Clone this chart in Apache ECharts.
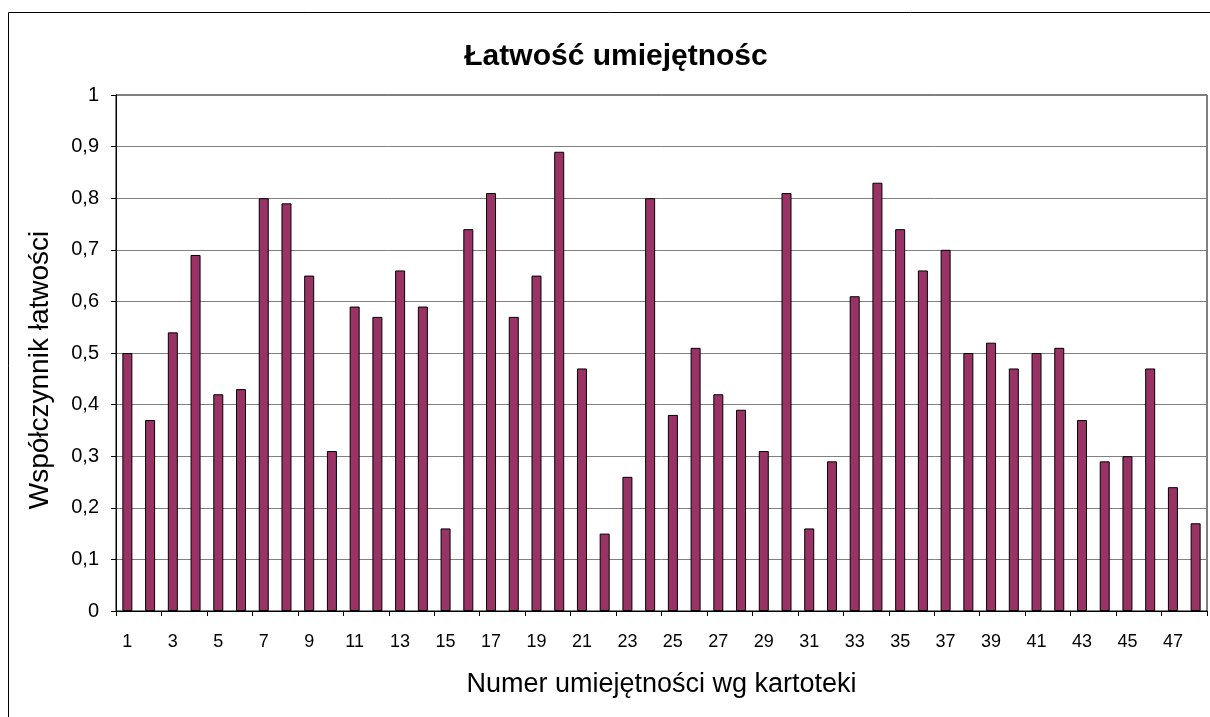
<!DOCTYPE html>
<html>
<head>
<meta charset="utf-8">
<title>Łatwość umiejętności</title>
<script src="https://cdn.jsdelivr.net/npm/echarts@6/dist/echarts.min.js"></script>
<style>
  html, body { margin: 0; padding: 0; background: #fff; }
  #main { width: 1210px; height: 717px; }
</style>
</head>
<body>
<div id="main"></div>
<script>
// numery umiejętności wg kartoteki
const categories = [];
for (let i = 1; i <= 48; i++) categories.push(String(i));

// współczynnik łatwości
const values = [
  0.50, 0.37, 0.54, 0.69, 0.42, 0.43, 0.80, 0.79, 0.65, 0.31,
  0.59, 0.57, 0.66, 0.59, 0.16, 0.74, 0.81, 0.57, 0.65, 0.89,
  0.47, 0.15, 0.26, 0.80, 0.38, 0.51, 0.42, 0.39, 0.31, 0.81,
  0.16, 0.29, 0.61, 0.83, 0.74, 0.66, 0.70, 0.50, 0.52, 0.47,
  0.50, 0.51, 0.37, 0.29, 0.30, 0.47, 0.24, 0.17
];

const titleText = 'Łatwość umiejętnośc';
const xName = 'Numer umiejętności wg kartoteki';
const yName = 'Współczynnik łatwości';

const font = '"Liberation Sans", Arial, sans-serif';

const chart = echarts.init(document.getElementById('main'), null, { renderer: 'canvas' });

const option = {
  backgroundColor: '#fff',
  animation: false,
  textStyle: { fontFamily: font, color: '#000' },
  title: {
    text: titleText,
    left: 611,
    textAlign: 'center',
    top: 37,
    textStyle: { fontFamily: font, fontSize: 30, fontWeight: 'bold', color: '#000' }
  },
  // ramka całego wykresu
  graphic: [{
    type: 'rect',
    shape: { x: 8.5, y: 12.5, width: 1400, height: 900 },
    style: { fill: 'none', stroke: '#000', lineWidth: 1 },
    silent: true
  }],
  grid: {
    left: 116,
    right: 3,
    top: 95,
    bottom: 106,
    show: true,
    borderColor: '#000',
    borderWidth: 1
  },
  xAxis: {
    type: 'category',
    data: categories,
    name: xName,
    nameLocation: 'middle',
    nameGap: 60,
    nameTextStyle: { fontFamily: font, fontSize: 27, color: '#000' },
    axisLine: { lineStyle: { color: '#000', width: 1 } },
    axisTick: { show: true, length: 5, alignWithLabel: false, lineStyle: { color: '#000' } },
    axisLabel: { interval: 1, margin: 22, fontFamily: font, fontSize: 18, color: '#000' },
    splitLine: { show: false }
  },
  yAxis: {
    type: 'value',
    min: 0,
    max: 1,
    interval: 0.1,
    name: yName,
    nameLocation: 'middle',
    nameGap: 62,
    nameRotate: 90,
    nameTextStyle: { fontFamily: font, fontSize: 28, color: '#000', padding: [0, 34, 0, 0] },
    axisLine: { show: true, lineStyle: { color: '#000', width: 1 } },
    axisTick: { show: true, length: 5, lineStyle: { color: '#000' } },
    axisLabel: {
      margin: 17,
      fontFamily: font,
      fontSize: 20,
      color: '#000',
      formatter: function (v) {
        return String(Math.round(v * 10) / 10).replace('.', ',');
      }
    },
    splitLine: { show: true, lineStyle: { color: '#808080', width: 1 } }
  },
  series: [{
    type: 'bar',
    data: values,
    barWidth: 10,
    itemStyle: { color: '#993366', borderColor: '#000', borderWidth: 1 }
  }]
};

chart.setOption(option);
</script>
</body>
</html>
